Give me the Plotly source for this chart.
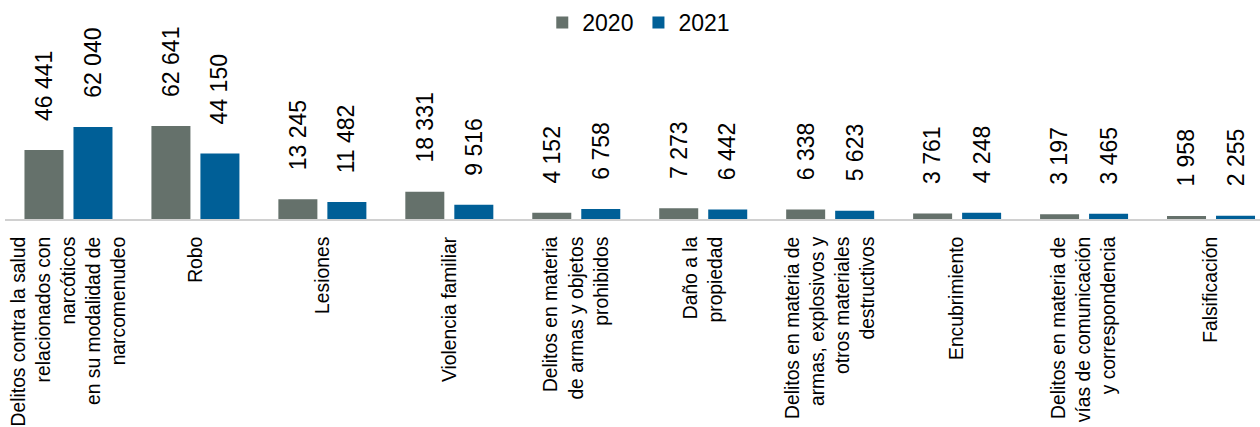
import plotly.graph_objects as go

categories = [
    "Delitos contra la salud<br>relacionados con<br>narcóticos<br>en su modalidad de<br>narcomenudeo",
    "Robo",
    "Lesiones",
    "Violencia familiar",
    "Delitos en materia<br>de armas y objetos<br>prohibidos",
    "Daño a la<br>propiedad",
    "Delitos en materia de<br>armas, explosivos y<br>otros materiales<br>destructivos",
    "Encubrimiento",
    "Delitos en materia de<br>vías de comunicación<br>y correspondencia",
    "Falsificación",
]
series_names = ["2020", "2021"]
values_2020 = [46441, 62641, 13245, 18331, 4152, 7273, 6338, 3761, 3197, 1958]
values_2021 = [62040, 44150, 11482, 9516, 6758, 6442, 5623, 4248, 3465, 2255]
colors = ["#65716B", "#005F97"]

FONT = "Liberation Sans, Arial, sans-serif"
BARGAP = 0.228
GROUPGAP = 0.204


def fmt(v):
    return f"{v:,}".replace(",", " ")


fig = go.Figure()
for name, vals, col in zip(series_names, [values_2020, values_2021], colors):
    fig.add_trace(go.Bar(
        x=list(range(len(categories))), y=vals, name=name,
        marker=dict(color=col, line=dict(width=0)),
    ))

slot = (1 - BARGAP) / 2
annotations = []
for s, vals in enumerate([values_2020, values_2021]):
    off = -slot / 2 if s == 0 else slot / 2
    for i, v in enumerate(vals):
        annotations.append(dict(
            x=i + off, y=v, xref="x", yref="y", text=fmt(v),
            showarrow=False, textangle=-90, xanchor="center", yanchor="bottom",
            yshift=27, font=dict(family=FONT, size=23, color="#000000"),
        ))

px_per_unit = 93 / 62641
plot_h = 160
axis_y = 219
fig.update_layout(
    width=1260, height=427,
    margin=dict(l=4.5, r=0, t=axis_y - plot_h, b=427 - axis_y),
    barmode="group", bargap=BARGAP, bargroupgap=GROUPGAP,
    plot_bgcolor="white", paper_bgcolor="white",
    font=dict(family=FONT, color="#000000"),
    showlegend=True,
    legend=dict(orientation="h", x=0.505, xanchor="center", y=1 - 1 / 427, yref="container",
                yanchor="top", font=dict(family=FONT, size=23, color="#000000"),
                itemwidth=30, tracegroupgap=0, bgcolor="rgba(0,0,0,0)"),
    annotations=annotations,
    xaxis=dict(
        tickmode="array", tickvals=list(range(len(categories))), ticktext=categories,
        tickangle=-90, range=[-0.5, 9.5 - 14.5 / 127],
        showline=True, linecolor="#D0D0D0", linewidth=2, ticks="",
        showgrid=False, zeroline=False, automargin=False,
        tickfont=dict(family=FONT, size=19.3, color="#000000"),
        ticklabelstandoff=8,
    ),
    yaxis=dict(range=[0, plot_h / px_per_unit], visible=False, showgrid=False,
               zeroline=False, fixedrange=True),
)

fig.write_html(
    "out.html",
    config={"displayModeBar": False, "staticPlot": True},
    post_script="document.body.style.margin='0';document.body.style.overflow='hidden';",
)
